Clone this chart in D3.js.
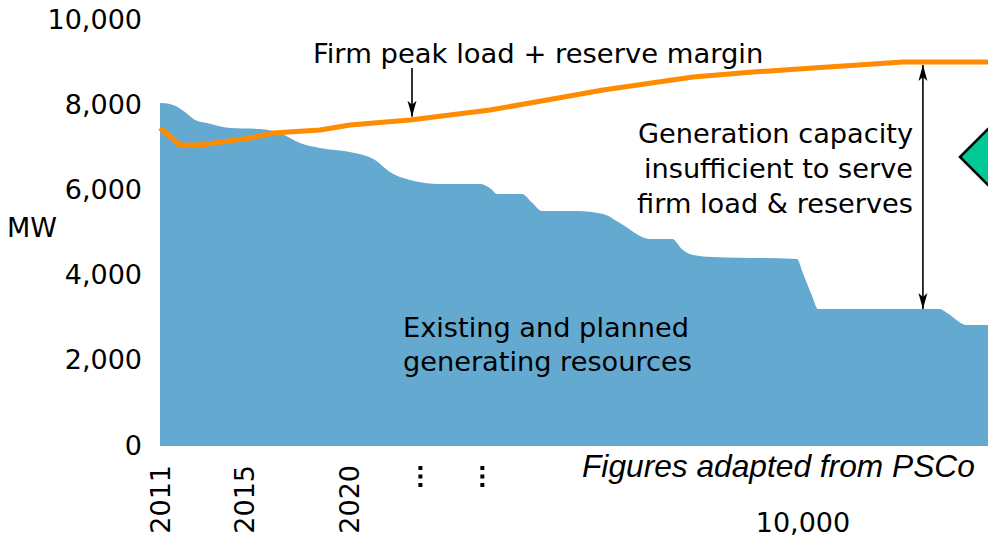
<!DOCTYPE html>
<html>
<head>
<meta charset="utf-8">
<script src="https://cdn.jsdelivr.net/npm/d3@7"></script>
<style>
  html, body { margin: 0; padding: 0; background: #fff; }
  svg { display: block; font-family: "DejaVu Sans", sans-serif; }
</style>
</head>
<body>
<svg id="chart" width="988" height="538"></svg>
<script>
// ---- data ----
const capacityYears = [2011, 2011.48, 2012.19, 2012.67, 2013.24, 2014.33, 2015.76, 2016.71, 2017.67, 2018.62,
  2020.05, 2021.24, 2021.95, 2022.9, 2024.33, 2026.24, 2026.71, 2027.05, 2028.24, 2028.7, 2029.19,
  2030.86, 2032.1, 2032.9, 2034.33, 2035.38, 2035.9, 2036.38, 2037.33, 2041.33, 2041.6, 2042.05, 2042.33,
  2048.14, 2048.48, 2049.43, 2051];
const capacityMW = [8050, 8028, 7840, 7653, 7582, 7465, 7441, 7347, 7113, 6995,
  6901, 6714, 6432, 6244, 6150, 6150, 6056, 5915, 5915, 5720, 5516,
  5516, 5446, 5235, 4859, 4859, 4601, 4484, 4437, 4390, 4080, 3520, 3216,
  3216, 3122, 2840, 2840];

const loadYears = [2011, 2011.95, 2012.9, 2015.29, 2016.38, 2018.62, 2020.05, 2022.9, 2026.71, 2029.43,
  2032.1, 2036.38, 2039.24, 2042.1, 2046.38, 2051];
const loadMW = [7465, 7066, 7066, 7230, 7347, 7418, 7535, 7653, 7887, 8122,
  8357, 8662, 8779, 8873, 9014, 9014];

const yTickValues = [0, 2000, 4000, 6000, 8000, 10000];
const xTickYears = [2011, 2015, 2020];
const xTickLabels = ["2011", "2015", "2020"];
const breakYears = [2023.4, 2026.35];

const loadLabel = "Firm peak load + reserve margin";
const gapLabel = ["Generation capacity", "insufficient to serve", "firm load & reserves"];
const capacityLabel = ["Existing and planned", "generating resources"];
const sourceLabel = "Figures adapted from PSCo";
const nextPanelLabel = "10,000";

// ---- scales ----
const svg = d3.select("#chart");
const x = d3.scaleLinear().domain([2011, 2051]).range([160, 1000]);
const y = d3.scaleLinear().domain([0, 10000]).range([446, 20]);

const capData = capacityYears.map((yr, i) => ({yr, v: capacityMW[i]}));
const loadData = loadYears.map((yr, i) => ({yr, v: loadMW[i]}));

// markers
const defs = svg.append("defs");
function addMarker(id, orient) {
  defs.append("marker")
    .attr("id", id)
    .attr("viewBox", "-16 -6 18 12")
    .attr("refX", 0).attr("refY", 0)
    .attr("markerWidth", 18).attr("markerHeight", 12)
    .attr("markerUnits", "userSpaceOnUse")
    .attr("orient", orient)
    .append("path")
    .attr("d", "M-16,-4.5 L0,0 L-16,4.5 L-12,0 Z")
    .attr("fill", "#000");
}
addMarker("arrowEnd", "auto");
addMarker("arrowStart", "auto-start-reverse");

// ---- area ----
svg.append("path")
  .datum(capData)
  .attr("fill", "#64a9d0")
  .attr("d", d3.area().curve(d3.curveMonotoneX).x(d => x(d.yr)).y0(y(0)).y1(d => y(d.v)));

// ---- load line ----
svg.append("path")
  .datum(loadData)
  .attr("fill", "none")
  .attr("stroke", "#ff8c00")
  .attr("stroke-width", 5)
  .attr("stroke-linejoin", "round")
  .attr("d", d3.line().x(d => x(d.yr)).y(d => y(d.v)));

// ---- y axis ----
const yAxis = svg.append("g")
  .attr("transform", "translate(142,0)")
  .call(d3.axisLeft(y).tickValues(yTickValues).tickFormat(d3.format(",")).tickSize(0).tickPadding(0));
yAxis.select(".domain").remove();
yAxis.selectAll("text")
  .attr("font-family", "DejaVu Sans, sans-serif")
  .attr("font-size", 27)
  .attr("fill", "#000")
  .attr("dy", "0.3em");

svg.append("text")
  .attr("x", 7).attr("y", 237)
  .attr("font-size", 27)
  .text("MW");

// ---- x axis (rotated year labels) ----
const xAxis = svg.append("g");
xAxis.selectAll("text.year")
  .data(xTickYears)
  .join("text")
  .attr("class", "year")
  .attr("transform", d => `translate(${x(d)},465) rotate(-90)`)
  .attr("text-anchor", "end")
  .attr("dy", "0.36em")
  .attr("font-size", 27)
  .text((d, i) => xTickLabels[i]);

xAxis.selectAll("g.brk")
  .data(breakYears)
  .join("g")
  .attr("class", "brk")
  .each(function(d) {
    const g = d3.select(this);
    [468, 476.5, 485].forEach(cy => {
      g.append("rect")
        .attr("x", x(d) - 2).attr("y", cy - 2)
        .attr("width", 4).attr("height", 4)
        .attr("fill", "#000");
    });
  });

// ---- annotations ----
svg.append("text")
  .attr("x", 313).attr("y", 63)
  .attr("font-size", 27.4)
  .text(loadLabel);

const arrowYear = 2023.0;
const loadAt = yr => d3.scaleLinear().domain(loadYears).range(loadMW)(yr);
const capAt = yr => d3.scaleLinear().domain(capacityYears).range(capacityMW)(yr);

svg.append("line")
  .attr("x1", x(arrowYear)).attr("x2", x(arrowYear))
  .attr("y1", 68).attr("y2", y(loadAt(arrowYear)) - 3)
  .attr("stroke", "#000").attr("stroke-width", 1.6)
  .attr("marker-end", "url(#arrowEnd)");

const gapYear = 2047.33;
svg.append("line")
  .attr("x1", x(gapYear)).attr("x2", x(gapYear))
  .attr("y1", y(loadAt(gapYear)) + 3).attr("y2", y(capAt(gapYear)))
  .attr("stroke", "#000").attr("stroke-width", 1.6)
  .attr("marker-start", "url(#arrowStart)")
  .attr("marker-end", "url(#arrowEnd)");

svg.append("g").selectAll("text")
  .data(gapLabel)
  .join("text")
  .attr("x", 913)
  .attr("y", (d, i) => 143 + i * 35)
  .attr("text-anchor", "end")
  .attr("font-size", 27.2)
  .text(d => d);

svg.append("g").selectAll("text")
  .data(capacityLabel)
  .join("text")
  .attr("x", 403)
  .attr("y", (d, i) => 337 + i * 34)
  .attr("font-size", 27.2)
  .text(d => d);

// green diamond (next panel, partially visible)
svg.append("path")
  .attr("d", "M960,157 L1000,117 L1040,157 L1000,197 Z")
  .attr("fill", "#00c896")
  .attr("stroke", "#000")
  .attr("stroke-width", 2.5);

svg.append("text")
  .attr("x", 582).attr("y", 477)
  .attr("font-family", "Liberation Sans, Arial, sans-serif")
  .attr("font-style", "italic")
  .attr("font-size", 31.7)
  .text(sourceLabel);

svg.append("text")
  .attr("x", 803).attr("y", 532)
  .attr("text-anchor", "middle")
  .attr("font-size", 27)
  .text(nextPanelLabel);
</script>
</body>
</html>
